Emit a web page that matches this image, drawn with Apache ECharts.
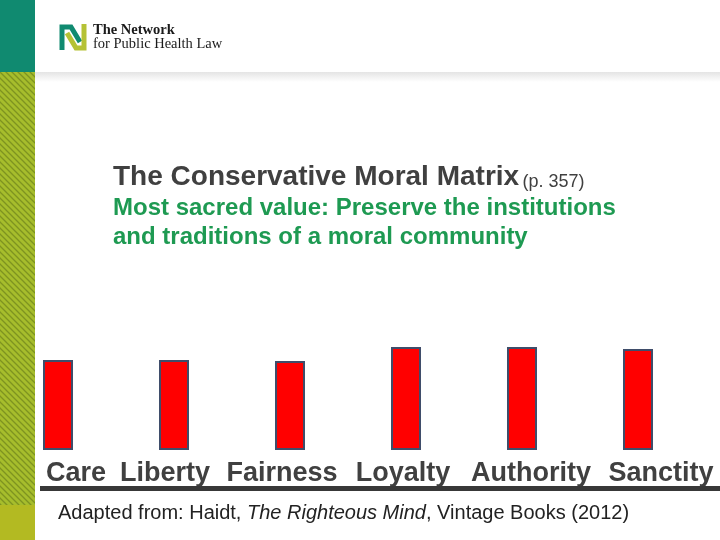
<!DOCTYPE html>
<html>
<head>
<meta charset="utf-8">
<script src="https://cdn.jsdelivr.net/npm/echarts@6/dist/echarts.min.js"></script>
<style>
html,body{margin:0;padding:0;background:#fff;}
#chart{width:720px;height:540px;}
</style>
</head>
<body>
<div id="chart"></div>
<script>
const categories = ['Care', 'Liberty', 'Fairness', 'Loyalty', 'Authority', 'Sanctity'];
const values = [90, 90, 89, 103, 103, 101];
const titleMain = 'The Conservative Moral Matrix';
const titlePage = '(p. 357)';
const subtitleLines = ['Most sacred value: Preserve the institutions', 'and traditions of a moral community'];
const sourceParts = ['Adapted from: Haidt, ', 'The Righteous Mind', ', Vintage Books (2012)'];

// hatch pattern for the left stripe
const pc = document.createElement('canvas');
pc.width = 6; pc.height = 6;
const g = pc.getContext('2d');
g.fillStyle = '#a6bd2c';
g.fillRect(0, 0, 6, 6);
g.strokeStyle = '#7e9320';
g.lineWidth = 1.3;
g.beginPath();
g.moveTo(-1, -1); g.lineTo(7, 7);
g.moveTo(-1, 5); g.lineTo(1, 7);
g.moveTo(5, -1); g.lineTo(7, 1);
g.stroke();

const chart = echarts.init(document.getElementById('chart'), null, {renderer: 'canvas'});
const font = '"Liberation Sans", Arial, sans-serif';
const serif = '"Liberation Serif", "DejaVu Serif", serif';

// label nudges (style only): [padLeft, padRight] to slide each label like the slide's text boxes
const labelPads = [[36, 0], [0, 18], [0, 16], [0, 6], [18, 0], [46, 0]];
const labelRich = {};
labelPads.forEach((p, i) => {
  labelRich['l' + i] = {
    fontFamily: font, fontSize: 27, fontWeight: 'bold', color: '#404040',
    lineHeight: 30, padding: [0, p[1], 0, p[0]]
  };
});

chart.setOption({
  animation: false,
  backgroundColor: '#ffffff',
  grid: {left: 0, right: 24, top: 340, bottom: 90},
  xAxis: {
    type: 'category',
    data: categories,
    axisLine: {show: false},
    axisTick: {show: false},
    axisLabel: {
      interval: 0,
      margin: 9,
      formatter: (v, i) => '{l' + i + '|' + v + '}',
      rich: labelRich
    }
  },
  yAxis: {
    type: 'value',
    min: 0,
    max: 110,
    show: false,
    splitLine: {show: false}
  },
  series: [{
    type: 'bar',
    data: values,
    barWidth: 30,
    itemStyle: {color: '#ff0000', borderColor: '#3f4d6a', borderWidth: 2}
  }],
  graphic: [
    // header shadow
    {type: 'rect', z: 1, shape: {x: 35, y: 72, width: 685, height: 10},
      style: {fill: new echarts.graphic.LinearGradient(0, 0, 0, 1, [{offset: 0, color: '#e4e4e4'}, {offset: 1, color: '#ffffff'}])}},
    // left stripe
    {type: 'rect', z: 1, shape: {x: 0, y: 0, width: 35, height: 72}, style: {fill: '#108a70'}},
    {type: 'rect', z: 1, shape: {x: 0, y: 72, width: 35, height: 433}, style: {fill: {image: pc, repeat: 'repeat'}}},
    {type: 'rect', z: 1, shape: {x: 0, y: 505, width: 35, height: 35}, style: {fill: '#b3ba22'}},
    // logo
    {type: 'polyline', z: 2, shape: {points: [[62, 50], [62, 27], [71, 27], [80, 42]]},
      style: {stroke: '#108a70', lineWidth: 5, fill: null, lineJoin: 'miter'}},
    {type: 'polyline', z: 2, shape: {points: [[67, 33], [76, 48], [84, 48], [84, 24]]},
      style: {stroke: '#b5c235', lineWidth: 5, fill: null, lineJoin: 'miter'}},
    {type: 'text', z: 2, x: 93, y: 23, style: {text: 'The Network', font: 'bold 14.5px ' + serif, fill: '#1a1a1a'}},
    {type: 'text', z: 2, x: 93, y: 37, style: {text: 'for Public Health Law', font: '14.5px ' + serif, fill: '#1a1a1a'}},
    // titles
    {type: 'text', z: 2, x: 113, y: 159, style: {
      text: '{a|' + titleMain + '} {b|' + titlePage + '}',
      rich: {
        a: {fontFamily: font, fontSize: 28, fontWeight: 'bold', fill: '#404040', lineHeight: 32, verticalAlign: 'bottom'},
        b: {fontFamily: font, fontSize: 18, fill: '#404040', lineHeight: 24, verticalAlign: 'bottom'}
      }
    }},
    {type: 'text', z: 2, x: 113, y: 194, style: {
      text: subtitleLines.join('\n'), font: 'bold 24px ' + font, fill: '#1e9a52', lineHeight: 29
    }},
    // baseline rule
    {type: 'line', z: 2, shape: {x1: 40, y1: 488.5, x2: 720, y2: 488.5}, style: {stroke: '#383838', lineWidth: 5}},
    // source
    {type: 'text', z: 2, x: 58, y: 503, style: {
      text: '{n|' + sourceParts[0] + '}{i|' + sourceParts[1] + '}{n|' + sourceParts[2] + '}',
      rich: {
        n: {fontFamily: font, fontSize: 20, fill: '#222222'},
        i: {fontFamily: font, fontSize: 20, fontStyle: 'italic', fill: '#222222'}
      }
    }}
  ]
});
</script>
</body>
</html>
